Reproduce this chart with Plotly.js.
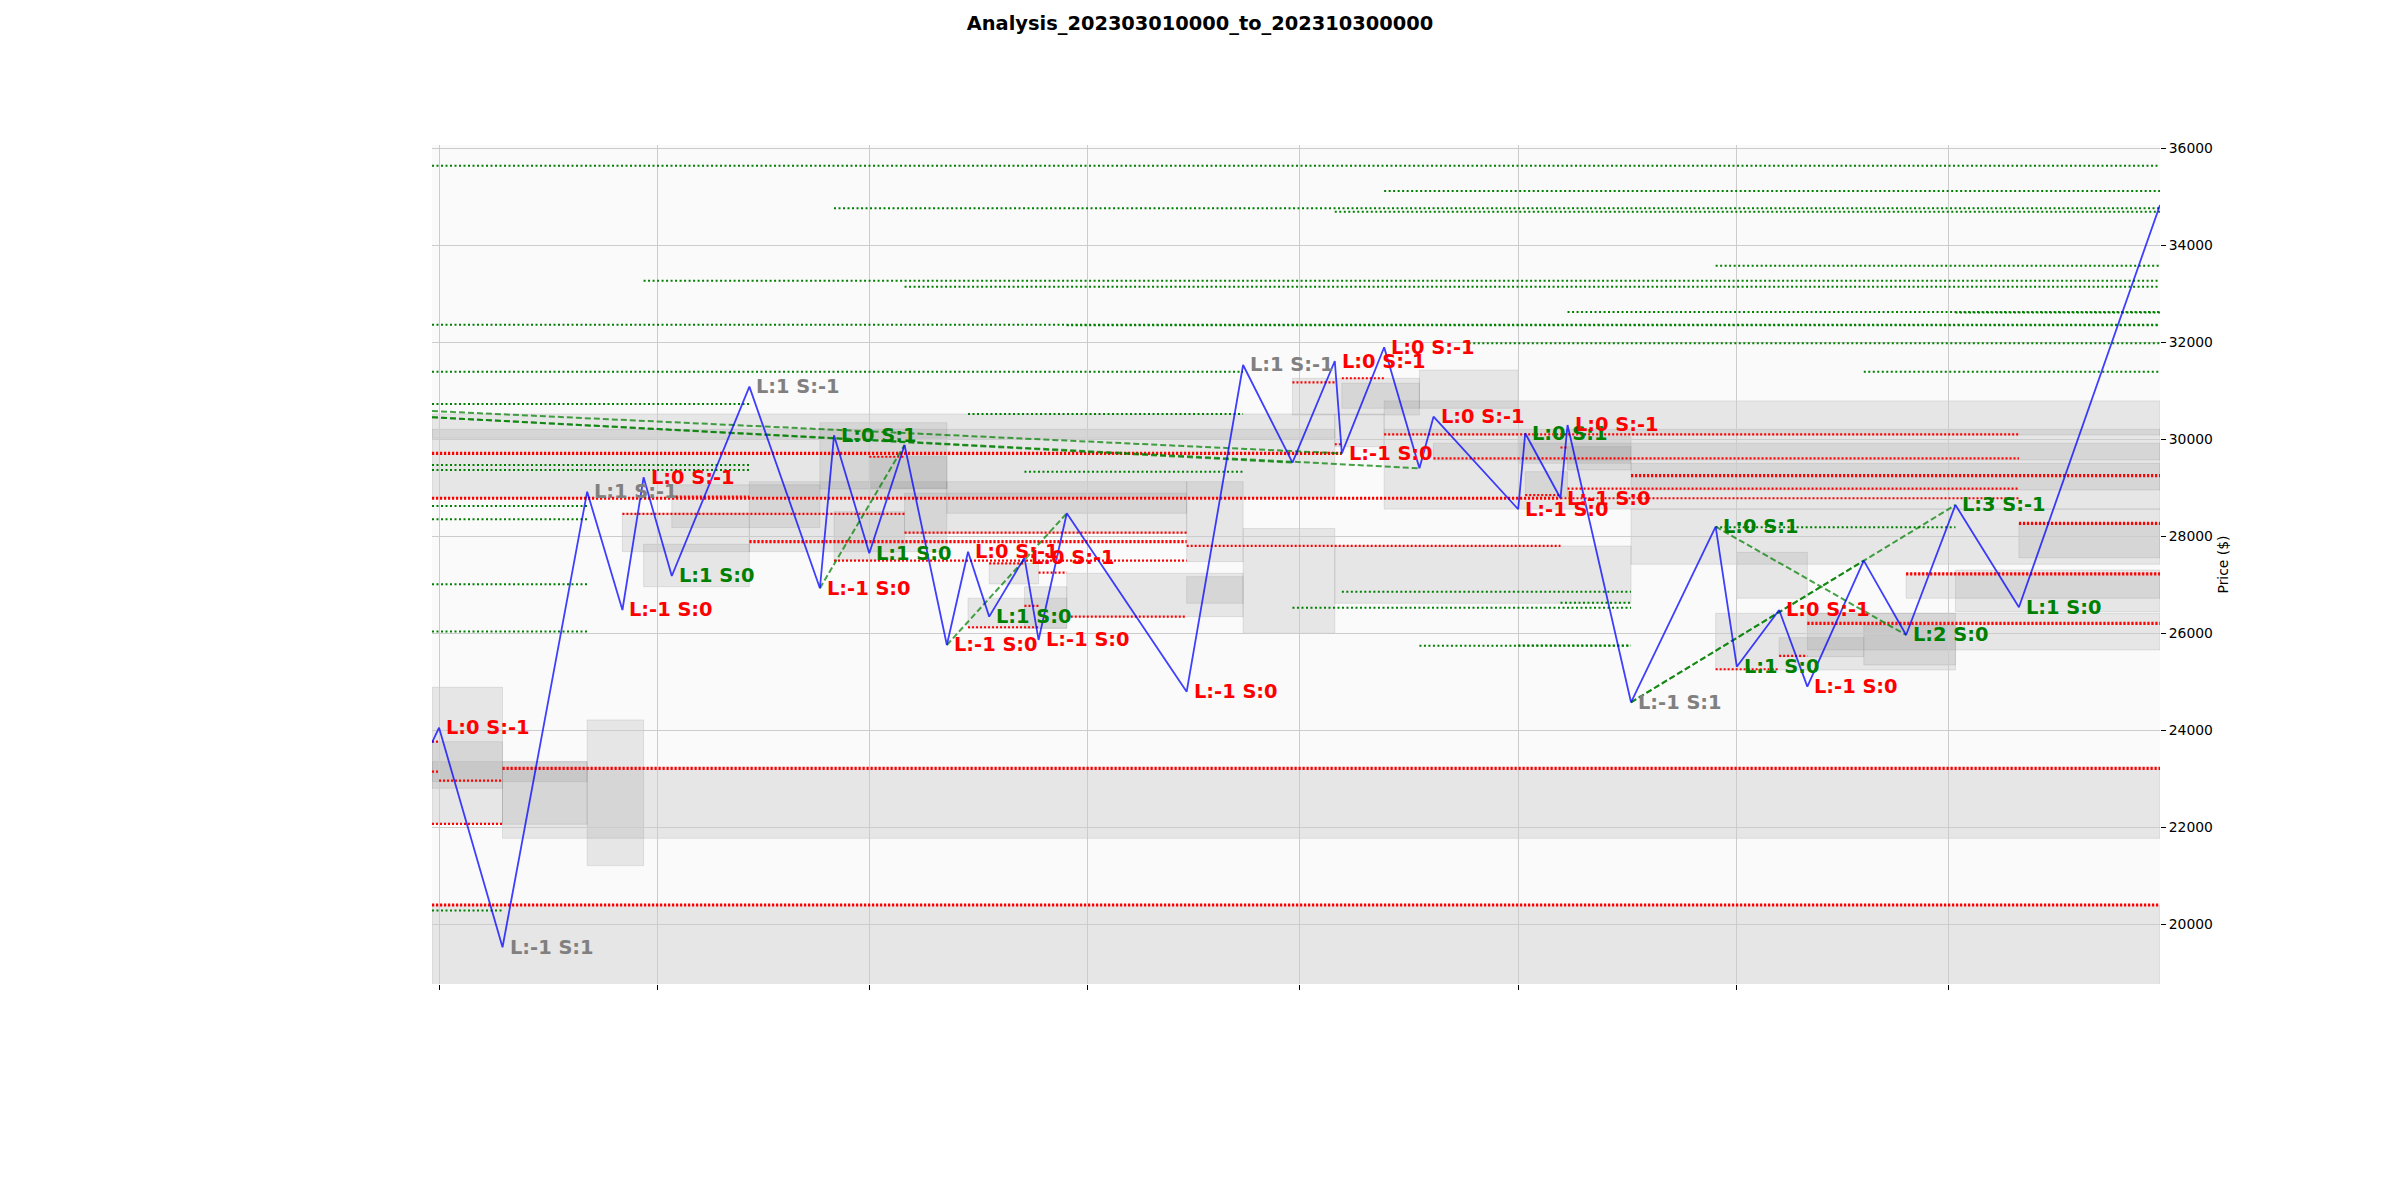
<!DOCTYPE html>
<html><head><meta charset="utf-8">
<script src="https://cdn.plot.ly/plotly-3.0.1.min.js"></script>
<style>html,body{margin:0;padding:0;background:#fff}</style>
</head><body><div id="chart" style="width:2400px;height:1200px"></div>
<script>
// ---------- DATA ----------
const chartTitle = 'Analysis_202303010000_to_202310300000';
const monthTicks = ['2023-03-01','2023-04-01','2023-05-01','2023-06-01','2023-07-01','2023-08-01','2023-09-01','2023-10-01'];

const pivotDates = ['2023-02-28','2023-03-01','2023-03-10','2023-03-22','2023-03-27','2023-03-30','2023-04-03','2023-04-14','2023-04-24','2023-04-26',
  '2023-05-01','2023-05-06','2023-05-12','2023-05-15','2023-05-18','2023-05-23','2023-05-25','2023-05-29','2023-06-15','2023-06-23',
  '2023-06-30','2023-07-06','2023-07-07','2023-07-13','2023-07-18','2023-07-20','2023-08-01','2023-08-02','2023-08-07','2023-08-08',
  '2023-08-17','2023-08-29','2023-09-01','2023-09-07','2023-09-11','2023-09-19','2023-09-25','2023-10-02','2023-10-11','2023-10-31'];
const pivotPrices = [23744,24054,19526,28920,26480,29216,27181,31085,26928,30082,
  27649,29882,25759,27682,26343,27559,25862,28474,24796,31532,
  29518,31614,29709,31897,29402,30466,28557,30124,28784,30295,
  24577,28198,25311,26480,24899,27497,25965,28646,26536,34831];
const pivotLabels = ['','L:0 S:-1','L:-1 S:1','L:1 S:-1','L:-1 S:0','L:0 S:-1','L:1 S:0','L:1 S:-1','L:-1 S:0','L:0 S:1',
  'L:1 S:0','','L:-1 S:0','L:0 S:-1','L:1 S:0','L:0 S:-1','L:-1 S:0','','L:-1 S:0','L:1 S:-1',
  '','L:0 S:-1','L:-1 S:0','L:0 S:-1','','L:0 S:-1','L:-1 S:0','L:0 S:1','L:-1 S:0','L:0 S:-1',
  'L:-1 S:1','L:0 S:1','L:1 S:0','L:0 S:-1','L:-1 S:0','','L:2 S:0','L:3 S:-1','L:1 S:0',''];
const pivotKinds = ['','short','neutral','neutral','short','short','long','neutral','short','long',
  'long','','short','short','long','short','short','','short','neutral',
  '','short','short','short','','short','short','long','short','short',
  'neutral','long','long','short','short','','long','long','long',''];

// resistance (green) levels
const greenStart = ['2023-02-28','2023-04-26','2023-07-06','2023-07-13','2023-03-30','2023-05-06','2023-08-29','2023-02-28','2023-05-29','2023-08-08',
  '2023-10-02','2023-07-25','2023-02-28','2023-09-19','2023-02-28','2023-05-15','2023-02-28','2023-02-28','2023-05-23','2023-02-28',
  '2023-02-28','2023-02-28','2023-02-28','2023-02-28','2023-08-29','2023-07-07','2023-08-07','2023-06-30','2023-07-18','2023-08-01'];
const greenEnd = ['2023-10-31','2023-10-31','2023-10-31','2023-10-31','2023-10-31','2023-10-31','2023-10-31','2023-10-31','2023-10-31','2023-10-31',
  '2023-10-31','2023-10-31','2023-06-23','2023-10-31','2023-04-14','2023-06-23','2023-04-14','2023-04-14','2023-06-23','2023-03-22',
  '2023-03-22','2023-03-22','2023-03-22','2023-03-10','2023-10-02','2023-08-17','2023-08-17','2023-08-17','2023-08-17','2023-08-17'];
const greenPrice = [35641,34765,34693,35120,33271,33147,33580,32363,32350,32625,
  32615,31979,31394,31394,30728,30522,29470,29367,29333,28625,
  28350,27010,26034,20281,28186,26857,26631,26528,25745,25750];

// support (red) levels
const redStart = ['2023-05-01','2023-08-07','2023-04-03','2023-03-27','2023-05-06','2023-04-26','2023-05-18','2023-05-25','2023-05-29','2023-05-15',
  '2023-05-23','2023-02-28','2023-02-28','2023-03-01','2023-02-28','2023-06-30','2023-07-07','2023-07-13','2023-07-20','2023-08-08',
  '2023-06-15','2023-09-07','2023-08-29','2023-08-02','2023-07-06','2023-08-07'];
const redEnd = ['2023-05-06','2023-10-11','2023-04-14','2023-05-06','2023-06-15','2023-06-15','2023-05-23','2023-05-29','2023-06-15','2023-05-25',
  '2023-05-25','2023-03-01','2023-03-01','2023-03-10','2023-03-10','2023-07-06','2023-07-13','2023-10-11','2023-10-11','2023-10-11',
  '2023-08-07','2023-09-11','2023-09-07','2023-08-07','2023-07-07','2023-08-08'];
const redPrice = [29640,28784,28820,28460,28075,27497,27443,27250,26343,26124,
  26563,23765,23147,22961,22068,31175,31258,30103,29608,28981,
  27800,25532,25258,28851,29898,29830];

// strong support (red) levels
const redStrongStart = ['2023-02-28','2023-02-28','2023-04-14','2023-03-10','2023-02-28','2023-08-17','2023-10-11','2023-09-25','2023-09-11'];
const redStrongEnd   = ['2023-07-07','2023-08-07','2023-06-15','2023-10-31','2023-10-31','2023-10-31','2023-10-31','2023-10-31','2023-10-31'];
const redStrongPrice = [29711,28784,27889,23216,20397,29250,28268,27223,26206];

// trend lines
const trendStartDate = ['2023-02-28','2023-02-28','2023-02-28','2023-04-24','2023-05-12','2023-08-17','2023-08-17','2023-08-29'];
const trendStartPrice = [30583,30454,30454,26928,25759,24577,24577,28198];
const trendEndDate = ['2023-07-07','2023-06-30','2023-07-18','2023-05-06','2023-05-29','2023-09-19','2023-10-02','2023-09-25'];
const trendEndPrice = [29709,29518,29402,29882,28474,27497,28646,25965];

// consolidation zones
const zoneStart = ['2023-02-28','2023-03-10','2023-02-28','2023-02-28','2023-02-28','2023-03-10','2023-03-22','2023-02-28','2023-02-28','2023-03-27',
  '2023-03-30','2023-04-03','2023-04-14','2023-04-24','2023-05-01','2023-04-26','2023-05-06','2023-05-12','2023-06-15','2023-05-15',
  '2023-05-18','2023-05-23','2023-05-29','2023-06-15','2023-06-23','2023-07-06','2023-06-30','2023-07-07','2023-07-18','2023-07-06',
  '2023-07-13','2023-08-17','2023-08-01','2023-08-08','2023-08-02','2023-07-13','2023-07-20','2023-08-17','2023-10-11','2023-10-02',
  '2023-09-25','2023-09-19','2023-09-11','2023-08-29','2023-09-07','2023-09-01'];
const zoneEnd = ['2023-10-31','2023-10-31','2023-03-10','2023-03-10','2023-03-22','2023-03-22','2023-03-30','2023-07-06','2023-07-06','2023-04-14',
  '2023-04-14','2023-04-24','2023-05-12','2023-05-12','2023-05-12','2023-05-06','2023-06-15','2023-06-15','2023-06-23','2023-05-29',
  '2023-05-25','2023-05-29','2023-06-23','2023-06-23','2023-07-06','2023-08-17','2023-07-18','2023-07-18','2023-08-01','2023-07-13',
  '2023-10-31','2023-10-31','2023-08-17','2023-08-17','2023-08-08','2023-10-31','2023-10-31','2023-10-31','2023-10-31','2023-10-31',
  '2023-10-31','2023-10-02','2023-10-31','2023-10-02','2023-09-19','2023-09-11'];
const zoneLow = [18000,21773,22082,22804,22941,22062,21209,28800,30021,27682,
  26960,28180,27682,28976,28990,27511,28062,28474,27477,26103,
  27017,26103,26343,26619,26000,26619,30501,30639,30639,29847,
  28560,27423,29505,29367,28816,30089,29573,28955,27559,26446,
  26722,25347,25656,25243,25518,26722];
const zoneHigh = [20397,23230,24886,23765,23353,23353,24213,30522,30206,28474,
  27835,29060,29126,30342,29641,28508,28887,29126,29126,26722,
  27443,26960,27237,27167,28160,27800,31258,31155,31428,30522,
  30791,28560,30054,29847,29332,30206,29918,29505,28268,27305,
  27237,26171,26412,26412,25910,27670];

// ---------- BUILD ----------
const FONT = 'DejaVu Sans, Verdana, sans-serif';
const kindColor = {short:'#ff0000', long:'#008000', neutral:'#808080'};

function levelTrace(starts, ends, prices, color, width, dash){
  const x=[], y=[];
  for(let i=0;i<prices.length;i++){ x.push(starts[i], ends[i], null); y.push(prices[i], prices[i], null); }
  return {type:'scatter', mode:'lines', x, y, hoverinfo:'skip', showlegend:false,
    line:{color, width, dash}};
}
function trendTrace(){
  const x=[], y=[];
  for(let i=0;i<trendStartDate.length;i++){
    x.push(trendStartDate[i], trendEndDate[i], null);
    y.push(trendStartPrice[i], trendEndPrice[i], null);
  }
  return {type:'scatter', mode:'lines', x, y, hoverinfo:'skip', showlegend:false,
    line:{color:'rgba(0,128,0,0.72)', width:2, dash:'6px,3px'}};
}

const traces = [
  levelTrace(greenStart, greenEnd, greenPrice, '#008000', 2, '2px,2.5px'),
  levelTrace(redStart, redEnd, redPrice, '#ff0000', 2.2, '2px,2px'),
  levelTrace(redStrongStart, redStrongEnd, redStrongPrice, '#ff0000', 3.2, '2.2px,1.8px'),
  trendTrace(),
  {type:'scatter', mode:'lines', x:pivotDates, y:pivotPrices, hoverinfo:'skip', showlegend:false,
   line:{color:'rgba(0,0,255,0.75)', width:1.8}}
];

const shapes = zoneStart.map((s,i)=>({type:'rect', xref:'x', yref:'y', layer:'below',
  x0:s, x1:zoneEnd[i], y0:zoneLow[i], y1:zoneHigh[i],
  fillcolor:'rgba(128,128,128,0.16)', line:{color:'rgba(128,128,128,0.18)', width:1}}));

const annotations = [];
pivotLabels.forEach((t,i)=>{
  if(!t) return;
  annotations.push({x:pivotDates[i], y:pivotPrices[i], xref:'x', yref:'y', text:'<b>'+t+'</b>',
    showarrow:false, xanchor:'left', yanchor:'middle', xshift:5, yshift:0,
    font:{family:FONT, size:19.4, color:kindColor[pivotKinds[i]]}});
});

const layout = {
  width:2400, height:1200,
  margin:{l:432, r:240, t:145, b:216, pad:0},
  paper_bgcolor:'#ffffff', plot_bgcolor:'#fafafa',
  showlegend:false,
  title:{text:'<b>'+chartTitle+'</b>', font:{family:FONT, size:19.4, color:'#000'},
    xref:'container', x:0.5, xanchor:'center', yref:'container', y:1-23.5/1200, yanchor:'middle'},
  xaxis:{type:'date', range:['2023-02-28','2023-10-31'], tickmode:'array', tickvals:monthTicks,
    showticklabels:false, ticks:'outside', ticklen:5, tickwidth:1, tickcolor:'#000',
    showgrid:true, gridcolor:'#cccccc', gridwidth:1, zeroline:false, showline:false, fixedrange:true},
  yaxis:{side:'right', range:[18768,36068], tick0:0, dtick:2000, tickformat:'d', ticks:'outside', ticklen:5, tickwidth:1,
    tickcolor:'#000', tickfont:{family:FONT, size:13.9, color:'#000'},
    showgrid:true, gridcolor:'#cccccc', gridwidth:1, zeroline:false, showline:false,
    title:{text:'Price ($)', font:{family:FONT, size:13.9, color:'#000'}, standoff:6}},
  shapes, annotations
};

Plotly.newPlot('chart', traces, layout, {displayModeBar:false, staticPlot:true});
</script></body></html>
